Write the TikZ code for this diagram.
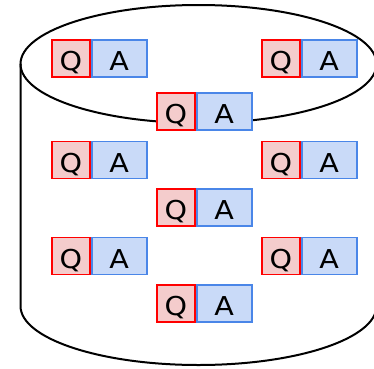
\documentclass[tikz,border=0pt]{standalone}
\usepackage{fontspec}
\setmainfont{DejaVu Sans}
\newfontfamily\boxfont[FakeStretch=1.1]{DejaVu Sans}
\usetikzlibrary{positioning}
\definecolor{qfill}{HTML}{F4CCCC}
\definecolor{qline}{HTML}{FF0000}
\definecolor{afill}{HTML}{C9DAF8}
\definecolor{aline}{HTML}{4A86E8}
\begin{document}
\begin{tikzpicture}[x=1pt, y=1pt,
    qbox/.style={draw=qline, fill=qfill, line width=1.7pt, inner sep=0pt,
        minimum width=38pt, minimum height=37pt, text height=24pt, text depth=0pt,
        font=\boxfont\fontsize{26}{26}\selectfont},
    abox/.style={qbox, draw=aline, fill=afill, minimum width=55pt}]
    \useasboundingbox (0,0) rectangle (374,368);
    % the store
    \draw[line width=2pt] (198.5,304) ellipse (178 and 59);
    \draw[line width=2pt] (20.5,304) -- (20.5,62) arc (180:360:178 and 59) -- (376.5,304);
    % stored pairs
    \foreach \n/\x/\y in {1/71/309.5, 2/281/309.5, 3/176/256.5, 4/71/208, 5/281/208,
                          6/176/160.5, 7/71/112, 8/281/112, 9/176/64.5} {
        \node[qbox] (q\n) at (\x,\y) {Q};
        \node[abox, right=0pt of q\n] (a\n) {A};
    }
\end{tikzpicture}
\end{document}
